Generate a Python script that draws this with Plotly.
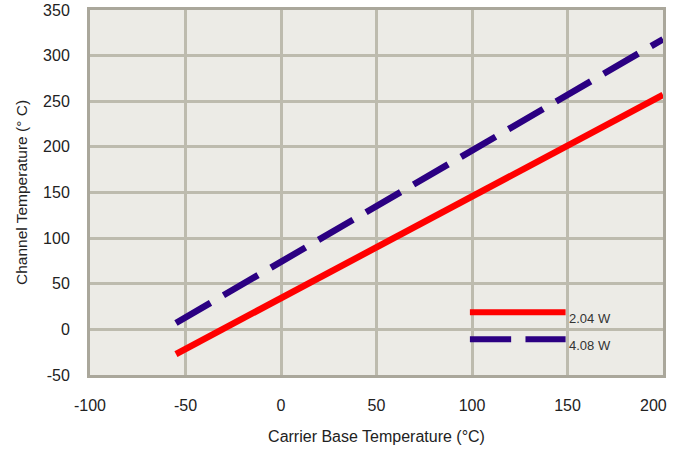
import plotly.graph_objects as go

x_vals = [-55, 200]
red_vals = [-27, 257]
blue_vals = [7, 318]
series_names = ["2.04 W", "4.08 W"]
x_ticks = [-100, -50, 0, 50, 100, 150, 200]
y_ticks = [-50, 0, 50, 100, 150, 200, 250, 300, 350]

RED = "#ff0000"
BLUE = "#2b0082"
GRID = "#bdbbae"
FONT = "Liberation Sans, Arial, sans-serif"
TXT = "#222222"

# last x label is placed as an annotation so it stays inside the page like the reference
x_ticktext = [str(v) for v in x_ticks[:-1]] + [""]

fig = go.Figure()
fig.add_trace(go.Scatter(x=x_vals, y=red_vals, mode="lines", name=series_names[0],
                         line=dict(color=RED, width=6.5), showlegend=False))
fig.add_trace(go.Scatter(x=x_vals, y=blue_vals, mode="lines", name=series_names[1],
                         line=dict(color=BLUE, width=6.5, dash="40px,15px"), showlegend=False))

fig.add_annotation(xref="paper", yref="paper", x=1.0, y=0, text=str(x_ticks[-1]),
                   showarrow=False, xanchor="right", yanchor="middle", xshift=6, yshift=-30,
                   font=dict(family=FONT, size=16, color=TXT))

# legend drawn manually to match long sample lines
fig.add_shape(type="line", xref="paper", yref="paper", x0=0.663, x1=0.83, y0=0.172, y1=0.172,
              line=dict(color=RED, width=6))
fig.add_shape(type="line", xref="paper", yref="paper", x0=0.663, x1=0.735, y0=0.098, y1=0.098,
              line=dict(color=BLUE, width=6))
fig.add_shape(type="line", xref="paper", yref="paper", x0=0.76, x1=0.83, y0=0.098, y1=0.098,
              line=dict(color=BLUE, width=6))
fig.add_annotation(xref="paper", yref="paper", x=0.832, y=0.155, text=series_names[0],
                   showarrow=False, xanchor="left", yanchor="middle",
                   font=dict(family=FONT, size=13, color="#333333"))
fig.add_annotation(xref="paper", yref="paper", x=0.832, y=0.081, text=series_names[1],
                   showarrow=False, xanchor="left", yanchor="middle",
                   font=dict(family=FONT, size=13, color="#333333"))

fig.update_xaxes(range=[-100, 200], tickvals=x_ticks, ticktext=x_ticktext,
                 showgrid=True, gridcolor=GRID, gridwidth=2.5, automargin=False,
                 zeroline=False, showline=True, linecolor="#aaa79b", linewidth=3, mirror=True,
                 ticks="", ticklabelstandoff=14, ticklabeloverflow="allow",
                 title=dict(text="Carrier Base Temperature (°C)", font=dict(family=FONT, size=16, color=TXT),
                            standoff=18),
                 tickfont=dict(family=FONT, size=16, color=TXT))
fig.update_yaxes(range=[-50, 350], tickvals=y_ticks, ticktext=[str(v) for v in y_ticks],
                 showgrid=True, gridcolor=GRID, gridwidth=2.5, automargin=False,
                 zeroline=False, showline=True, linecolor="#aaa79b", linewidth=3, mirror=True,
                 ticks="", ticklabelstandoff=14, ticklabeloverflow="allow",
                 title=dict(text="Channel Temperature (° C)", font=dict(family=FONT, size=15.5, color=TXT),
                            standoff=12),
                 tickfont=dict(family=FONT, size=16, color=TXT))

fig.update_layout(width=673, height=451, margin=dict(l=90, r=10, t=10, b=76),
                  plot_bgcolor="#ecebe6", paper_bgcolor="white",
                  font=dict(family=FONT))

fig.write_html("out.html", config={"displayModeBar": False},
               post_script="document.body.style.margin='0';")
